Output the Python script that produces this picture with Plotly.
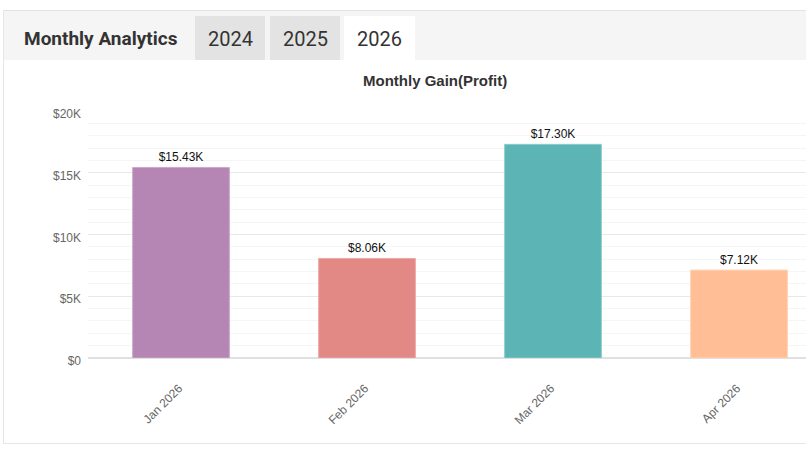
import plotly.graph_objects as go

months = ["Jan 2026", "Feb 2026", "Mar 2026", "Apr 2026"]
gains = [15430, 8060, 17300, 7120]
bar_labels = ["$15.43K", "$8.06K", "$17.30K", "$7.12K"]
bar_colors = ["#b586b4", "#e28885", "#5cb4b5", "#ffbe95"]
bar_edges = ["#cba8ca", "#eca9a7", "#8ccccc", "#ffd4b6"]
y_ticks = [0, 5000, 10000, 15000, 20000]
y_tick_labels = ["$0", "$5K", "$10K", "$15K", "$20K"]
tabs = ["2024", "2025", "2026"]

W, H = 806, 449
L, R, T, B = 88, 0, 111, 91
PW, PH = W - L - R, H - T - B

def px(x):
    return (x - L) / PW

def py(y):
    return (H - B - y) / PH

fig = go.Figure(go.Bar(
    x=months, y=gains, text=bar_labels, textposition="outside",
    textfont=dict(family="Liberation Sans, Arial", size=12, color="#111"),
    marker=dict(color=bar_colors, line=dict(color=bar_edges, width=1)),
    width=0.52, cliponaxis=False, hoverinfo="skip",
))

shapes = [
    dict(type="rect", x0=px(4), x1=px(806), y0=py(11), y1=py(60),
         fillcolor="#f5f5f5", line=dict(width=0)),
    dict(type="line", x0=px(3), x1=px(806), y0=py(10.5), y1=py(10.5),
         line=dict(color="#e2e2e2", width=1)),
    dict(type="line", x0=px(3.5), x1=px(3.5), y0=py(10), y1=py(444),
         line=dict(color="#e6e6e6", width=1)),
    dict(type="line", x0=px(3), x1=px(806), y0=py(443.5), y1=py(443.5),
         line=dict(color="#e6e6e6", width=1)),
]
tab_x = [(195, 265), (270, 340), (344, 415)]
tab_fill = ["#e3e3e3", "#e3e3e3", "#ffffff"]
for (x0, x1), fc in zip(tab_x, tab_fill):
    shapes.append(dict(type="rect", x0=px(x0), x1=px(x1), y0=py(16), y1=py(60),
                       fillcolor=fc, line=dict(width=0)))
for s in shapes:
    s["xref"] = "paper"
    s["yref"] = "paper"
    s["layer"] = "above"

annotations = [
    dict(text="<b>Monthly Analytics</b>", x=px(22), y=py(39), xanchor="left", yanchor="middle",
         font=dict(family="Roboto", size=19, color="#333")),
    dict(text="<b>Monthly Gain(Profit)</b>", x=px(435), y=py(80), xanchor="center", yanchor="middle",
         font=dict(family="Liberation Sans, Arial", size=15, color="#333")),
]
for (x0, x1), t in zip(tab_x, tabs):
    annotations.append(dict(text=t, x=px((x0 + x1) / 2), y=py(39), xanchor="center", yanchor="middle",
                            font=dict(family="Roboto", size=20, color="#333")))
for a in annotations:
    a["xref"] = "paper"
    a["yref"] = "paper"
    a["showarrow"] = False

fig.update_layout(
    width=W, height=H, margin=dict(l=L, r=R, t=T, b=B),
    paper_bgcolor="white", plot_bgcolor="white",
    showlegend=False, shapes=shapes, annotations=annotations,
    xaxis=dict(range=[-0.5, 3.36], tickangle=-45, showgrid=False, showline=False,
               ticks="", tickfont=dict(family="Liberation Sans, Arial", size=12, color="#666"),
               ticklabelstandoff=20, ticklabelshift=-2, fixedrange=True),
    yaxis=dict(range=[0, 20000], tickvals=y_ticks, ticktext=y_tick_labels,
               showgrid=True, gridcolor="#e8e8e8", gridwidth=1,
               zeroline=True, zerolinecolor="#e0e0e0", zerolinewidth=2,
               minor=dict(dtick=1000, showgrid=True, gridcolor="#f5f5f5", gridwidth=1),
               tickfont=dict(family="Liberation Sans, Arial", size=12, color="#666"),
               ticklabelstandoff=6, ticklabelshift=3, fixedrange=True),
)

fig.write_html("out.html", config={"displayModeBar": False})
